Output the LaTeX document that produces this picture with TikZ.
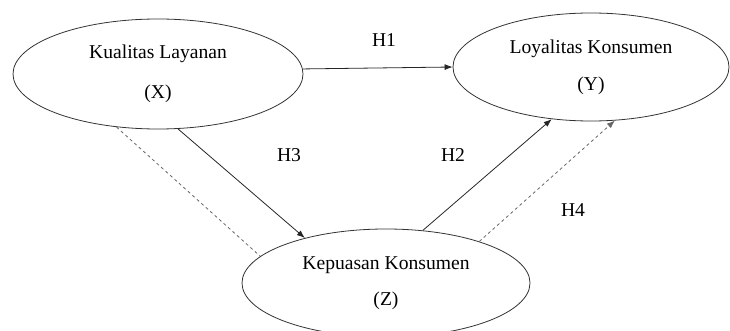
\documentclass[tikz,border=0pt]{standalone}
\usepackage{fontspec}
\setmainfont{Liberation Serif}
\usetikzlibrary{arrows.meta, positioning, shapes.geometric}

\begin{document}
\begin{tikzpicture}[x=1pt, y=-1pt, construct/.style={draw=black!80, ellipse, thick, inner sep=0pt, align=center, font=\fontsize{19.6}{40}\selectfont}, hyp/.style={font=\fontsize{19.6}{23}\selectfont}]
		\useasboundingbox (0,0) rectangle (730,331);
		\node[construct, minimum width=290pt, minimum height=110pt] (X) at (158, 74) {Kualitas Layanan\\(X)};
		\node[construct, minimum width=276pt, minimum height=108pt] (Y) at (591, 67) {Loyalitas Konsumen\\[-3pt](Y)};
		\node[construct, minimum width=288pt, minimum height=108pt] (Z) at (386, 283) {Kepuasan Konsumen\\[-4pt](Z)};
		\path[-{Latex[length=8pt, width=6pt]}, thick, black!85] (X.2) edge (Y.west) (X.-70) edge (Z.151) (Z.55) edge (Y.-127);
		\path[-{Latex[length=8pt, width=6pt]}, thick, black!60, dash pattern=on 3pt off 3pt] (Z.24) edge (Y.-66);
		\path[-, thick, black!60, dash pattern=on 3pt off 3pt] (X.-128) edge (Z.168);
		\node[hyp] (h1) at (384, 40) {H1};
		\node[hyp] (h2) at (453, 155) {H2};
		\node[hyp] (h3) at (289, 155) {H3};
		\node[hyp] (h4) at (573, 210) {H4};
	\end{tikzpicture}
\end{document}
